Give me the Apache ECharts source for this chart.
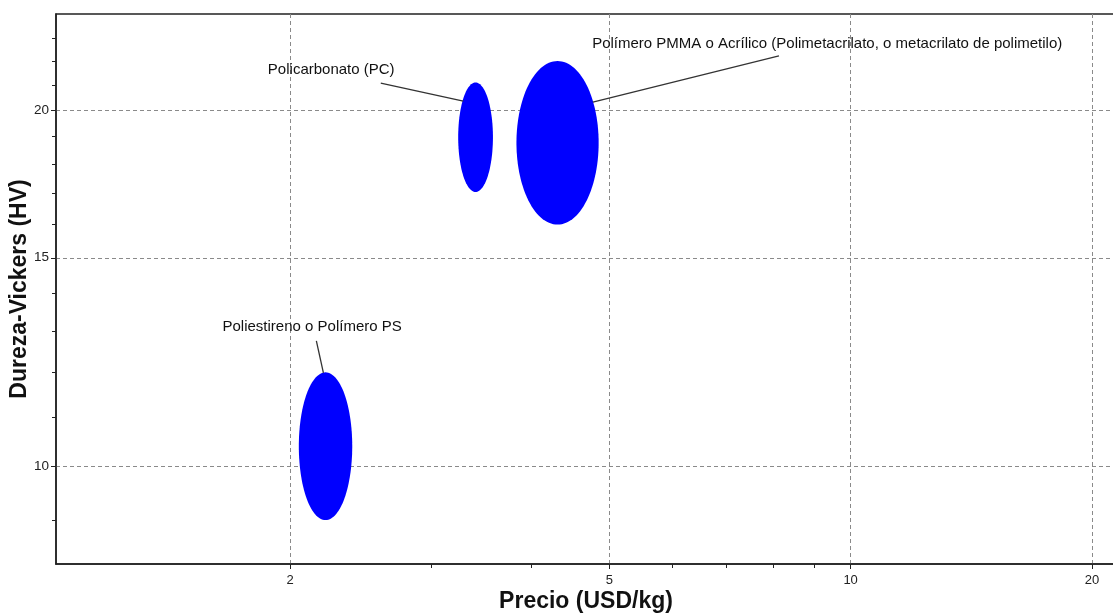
<!DOCTYPE html>
<html>
<head>
<meta charset="utf-8">
<script src="https://cdn.jsdelivr.net/npm/echarts@6/dist/echarts.min.js"></script>
<style>
    html, body { margin: 0; padding: 0; background: #fff; }
    #mains { width: 1113px; height: 616px; }
</style>
</head>
<body>
<div id="mains"></div>
<script>
    // materiales (Ashby): rango de precio y dureza de cada burbuja
    var materials = ['Poliestireno o Polímero PS', 'Policarbonato (PC)',
        'Polímero PMMA o Acrílico (Polimetacrilato, o metacrilato de polimetilo)'];
    var priceMin = [2.05, 3.24, 3.83];
    var priceMax = [2.39, 3.58, 4.85];
    var hardMin = [9.0, 17.05, 16.0];
    var hardMax = [12.0, 21.1, 22.0];

    // etiquetas y lineas guia (en unidades de datos)
    var labelX = [2.13, 2.25, 9.35];
    var labelY = [13.1, 21.62, 22.74];
    var leaderX = [2.156, 2.594, 8.14];
    var leaderY = [12.76, 21.07, 22.22];
    var leaderEndX = [2.2, 3.288, 4.77];
    var leaderEndY = [11.99, 20.35, 20.31];

    var xMajor = [2, 5, 10, 20];
    var xMinor = [3, 4, 6, 7, 8, 9];
    var yMajor = [10, 15, 20];
    var yMinor = [9, 11, 12, 13, 14, 16, 17, 18, 19, 21, 22, 23];

    var xMin = 1.0207, xMax = 21.43;
    var yMin = 8.263, yMax = 24.11;

    var FONT = '"Liberation Sans", Arial, sans-serif';

    var ellipseData = [];
    for (var i = 0; i < materials.length; i++) {
        ellipseData.push([priceMin[i], priceMax[i], hardMin[i], hardMax[i]]);
    }
    var labelData = [];
    for (var j = 0; j < materials.length; j++) {
        labelData.push([labelX[j], labelY[j], leaderX[j], leaderY[j], leaderEndX[j], leaderEndY[j]]);
    }

    function renderEllipse(params, api) {
        var lx0 = Math.log10(api.value(0)), lx1 = Math.log10(api.value(1));
        var ly0 = Math.log10(api.value(2)), ly1 = Math.log10(api.value(3));
        var cx = (lx0 + lx1) / 2, rx = (lx1 - lx0) / 2;
        var cy = (ly0 + ly1) / 2, ry = (ly1 - ly0) / 2;
        var pts = [];
        for (var k = 0; k < 120; k++) {
            var t = k / 120 * Math.PI * 2;
            pts.push(api.coord([Math.pow(10, cx + rx * Math.cos(t)), Math.pow(10, cy + ry * Math.sin(t))]));
        }
        return {
            type: 'polygon',
            shape: { points: pts },
            style: { fill: '#0000ff', stroke: null }
        };
    }

    function renderLabel(params, api) {
        var p = api.coord([api.value(0), api.value(1)]);
        var a = api.coord([api.value(2), api.value(3)]);
        var b = api.coord([api.value(4), api.value(5)]);
        return {
            type: 'group',
            children: [{
                type: 'line',
                shape: { x1: a[0], y1: a[1], x2: b[0], y2: b[1] },
                style: { stroke: '#333', lineWidth: 1.3 }
            }, {
                type: 'text',
                style: {
                    text: materials[params.dataIndex],
                    x: p[0], y: p[1],
                    align: 'center', verticalAlign: 'middle',
                    fill: '#111', fontSize: 15, fontFamily: FONT
                }
            }]
        };
    }

    var splitStyle = { show: true, lineStyle: { color: '#8a8a8a', type: [4, 3], width: 1 } };
    var axisLineStyle = { show: true, lineStyle: { color: '#222', width: 1.5 } };

    var myChart = echarts.init(document.getElementById('mains'));
    myChart.setOption({
        animation: false,
        backgroundColor: '#fff',
        textStyle: { fontFamily: FONT },
        grid: {
            left: 56, top: 14, right: -3, bottom: 52,
            containLabel: false, outerBoundsMode: 'none',
            show: true, borderColor: '#222', borderWidth: 1.5, backgroundColor: 'transparent'
        },
        xAxis: [
            {
                type: 'log', min: xMin, max: xMax, position: 'bottom',
                name: 'Precio (USD/kg)', nameLocation: 'middle', nameGap: 26, nameMoveOverlap: false,
                nameTextStyle: { fontSize: 23, fontWeight: 'bold', color: '#111', fontFamily: FONT },
                axisLine: axisLineStyle,
                axisTick: { show: true, inside: false, length: 5, customValues: xMajor, lineStyle: { color: '#222' } },
                axisLabel: { customValues: xMajor, fontSize: 13, color: '#222', margin: 10, fontFamily: FONT },
                splitLine: splitStyle,
                minorTick: { show: false }
            },
            {
                type: 'log', min: xMin, max: xMax, position: 'bottom',
                axisLine: { show: false },
                axisTick: { show: true, length: 4, customValues: xMinor, lineStyle: { color: '#222' } },
                axisLabel: { show: false },
                splitLine: { show: false }
            }
        ],
        yAxis: [
            {
                type: 'log', min: yMin, max: yMax, position: 'left',
                name: 'Dureza-Vickers (HV)', nameLocation: 'middle', nameGap: 25, nameMoveOverlap: false,
                nameTextStyle: { fontSize: 23, fontWeight: 'bold', color: '#111', fontFamily: FONT },
                axisLine: axisLineStyle,
                axisTick: { show: true, length: 5, customValues: yMajor, lineStyle: { color: '#222' } },
                axisLabel: { customValues: yMajor, fontSize: 13.5, color: '#222', margin: 7, fontFamily: FONT },
                splitLine: splitStyle
            },
            {
                type: 'log', min: yMin, max: yMax, position: 'left',
                axisLine: { show: false },
                axisTick: { show: true, length: 4, customValues: yMinor, lineStyle: { color: '#222' } },
                axisLabel: { show: false },
                splitLine: { show: false }
            }
        ],
        series: [
            {
                name: 'materiales',
                type: 'custom',
                xAxisIndex: 0, yAxisIndex: 0,
                renderItem: renderEllipse,
                encode: { x: [0, 1], y: [2, 3] },
                data: ellipseData,
                z: 3
            },
            {
                name: 'etiquetas',
                type: 'custom',
                xAxisIndex: 0, yAxisIndex: 0,
                renderItem: renderLabel,
                encode: { x: [0, 2, 4], y: [1, 3, 5] },
                data: labelData,
                clip: false,
                z: 4
            }
        ]
    });
</script>
</body>
</html>
